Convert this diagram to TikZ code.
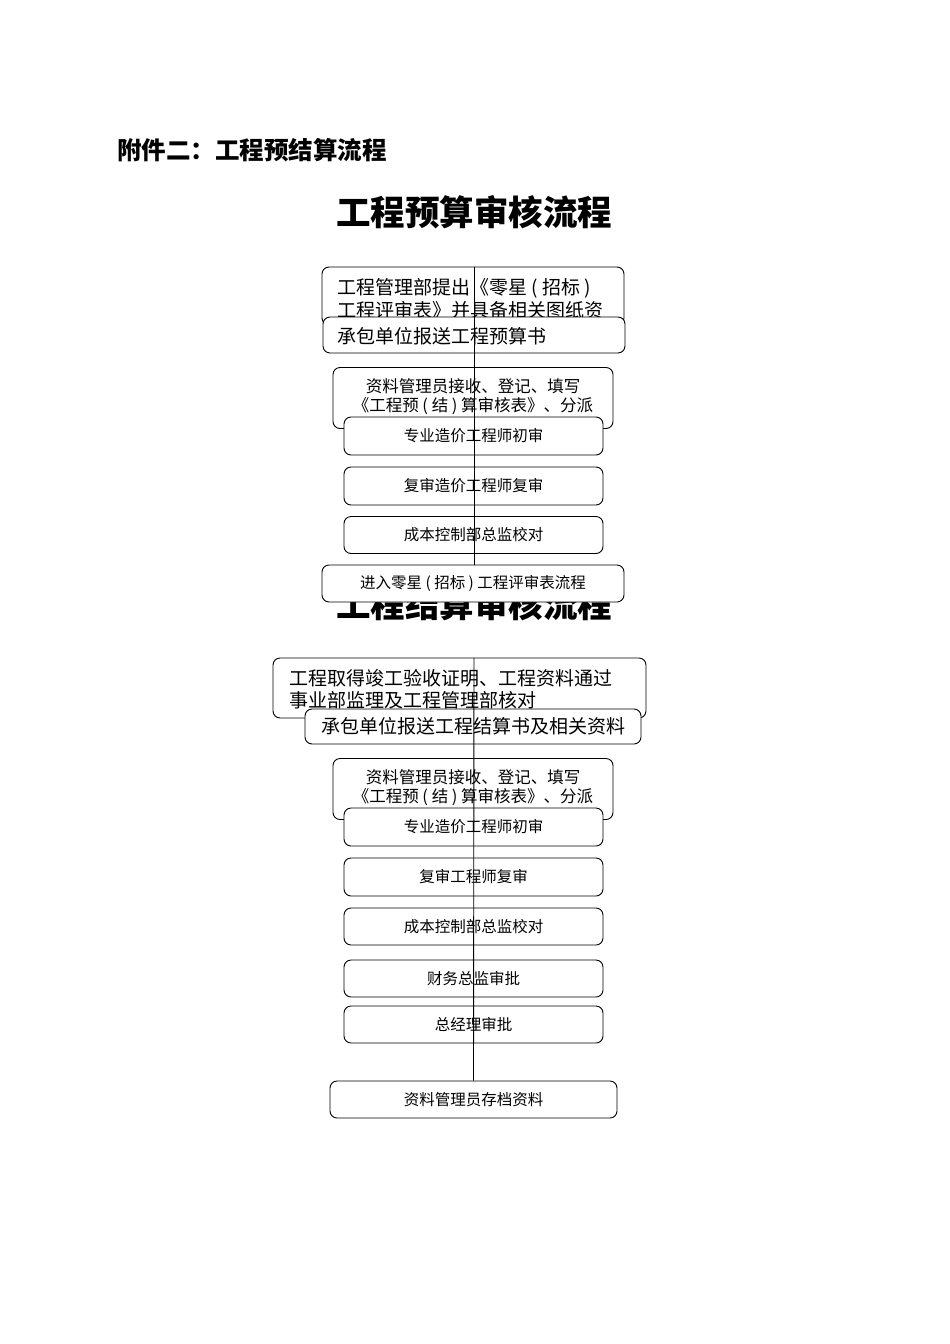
\documentclass[tikz,border=0pt]{standalone}
\usepackage{fontspec}
\setmainfont{Noto Sans CJK SC}
\begin{document}
\begin{tikzpicture}[x=1pt,y=-1pt,
  bx/.style={draw,fill=white,rounded corners=7pt,line width=0.9pt,inner sep=0pt,font=\fontsize{15.5}{18}\selectfont},
  tx/.style={inner sep=0pt,anchor=west,font=\fontsize{19}{22}\selectfont},
  tc/.style={inner sep=0pt,font=\fontsize{16.5}{19}\selectfont},
  ln/.style={line width=0.9pt}]
\useasboundingbox (0,0) rectangle (950,1344);
\node[inner sep=0pt,anchor=west,font=\fontsize{24.5}{28}\selectfont\bfseries] (h) at (117,150) {附件二：工程预结算流程};
\node[inner sep=0pt,font=\fontsize{34.5}{38}\selectfont\bfseries] (t1) at (474,212) {工程预算审核流程};
% top flow
\node[bx,minimum width=302,minimum height=58] (b1) at (473,296) {};
\node[tx] at (337,288) {工程管理部提出《零星 ( 招标 )};
\node[tx] at (337,310) {工程评审表》并具备相关图纸资};
\node[bx,minimum width=302,minimum height=36] (b2) at (474,335) {};
\node[tx] at (337,336) {承包单位报送工程预算书};
\node[bx,minimum width=280,minimum height=61] (b3) at (473,398) {};
\node[tc] at (473,386) {资料管理员接收、登记、填写};
\node[tc] at (473,406) {《工程预 ( 结 ) 算审核表》、分派};
\node[bx,minimum width=259,minimum height=38] (b4) at (473.5,436) {专业造价工程师初审};
\node[bx,minimum width=259,minimum height=38] (b5) at (473.5,486) {复审造价工程师复审};
\node[bx,minimum width=259,minimum height=37] (b6) at (473.5,535) {成本控制部总监校对};
\node[inner sep=0pt,font=\fontsize{34.5}{38}\selectfont\bfseries] (t2) at (474,604) {工程结算审核流程};
\node[bx,minimum width=302,minimum height=37] (b7) at (473,583.5) {进入零星 ( 招标 ) 工程评审表流程};
\coordinate (ta) at (474,267);
\coordinate (tb) at (474,565);
\draw[ln] (ta) -- (tb);
% bottom flow
\node[bx,minimum width=373,minimum height=60] (c1) at (459.5,688) {};
\node[tx] at (289,678) {工程取得竣工验收证明、工程资料通过};
\node[tx] at (289,700) {事业部监理及工程管理部核对};
\node[bx,minimum width=336,minimum height=35,font=\fontsize{19}{22}\selectfont] (c2) at (473,726.5) {承包单位报送工程结算书及相关资料};
\node[bx,minimum width=280,minimum height=61] (c3) at (473,789) {};
\node[tc] at (473,777) {资料管理员接收、登记、填写};
\node[tc] at (473,797) {《工程预 ( 结 ) 算审核表》、分派};
\node[bx,minimum width=259,minimum height=38] (c4) at (473.5,827) {专业造价工程师初审};
\node[bx,minimum width=259,minimum height=38] (c5) at (473.5,877) {复审工程师复审};
\node[bx,minimum width=259,minimum height=37] (c6) at (473.5,926.5) {成本控制部总监校对};
\node[bx,minimum width=259,minimum height=37] (c7) at (473.5,978.5) {财务总监审批};
\node[bx,minimum width=259,minimum height=37] (c8) at (473.5,1024.5) {总经理审批};
\node[bx,minimum width=287,minimum height=37] (c9) at (473.5,1099.5) {资料管理员存档资料};
\coordinate (ba) at (474,658);
\draw[ln] (ba) -- (c9.north);
\end{tikzpicture}
\end{document}
